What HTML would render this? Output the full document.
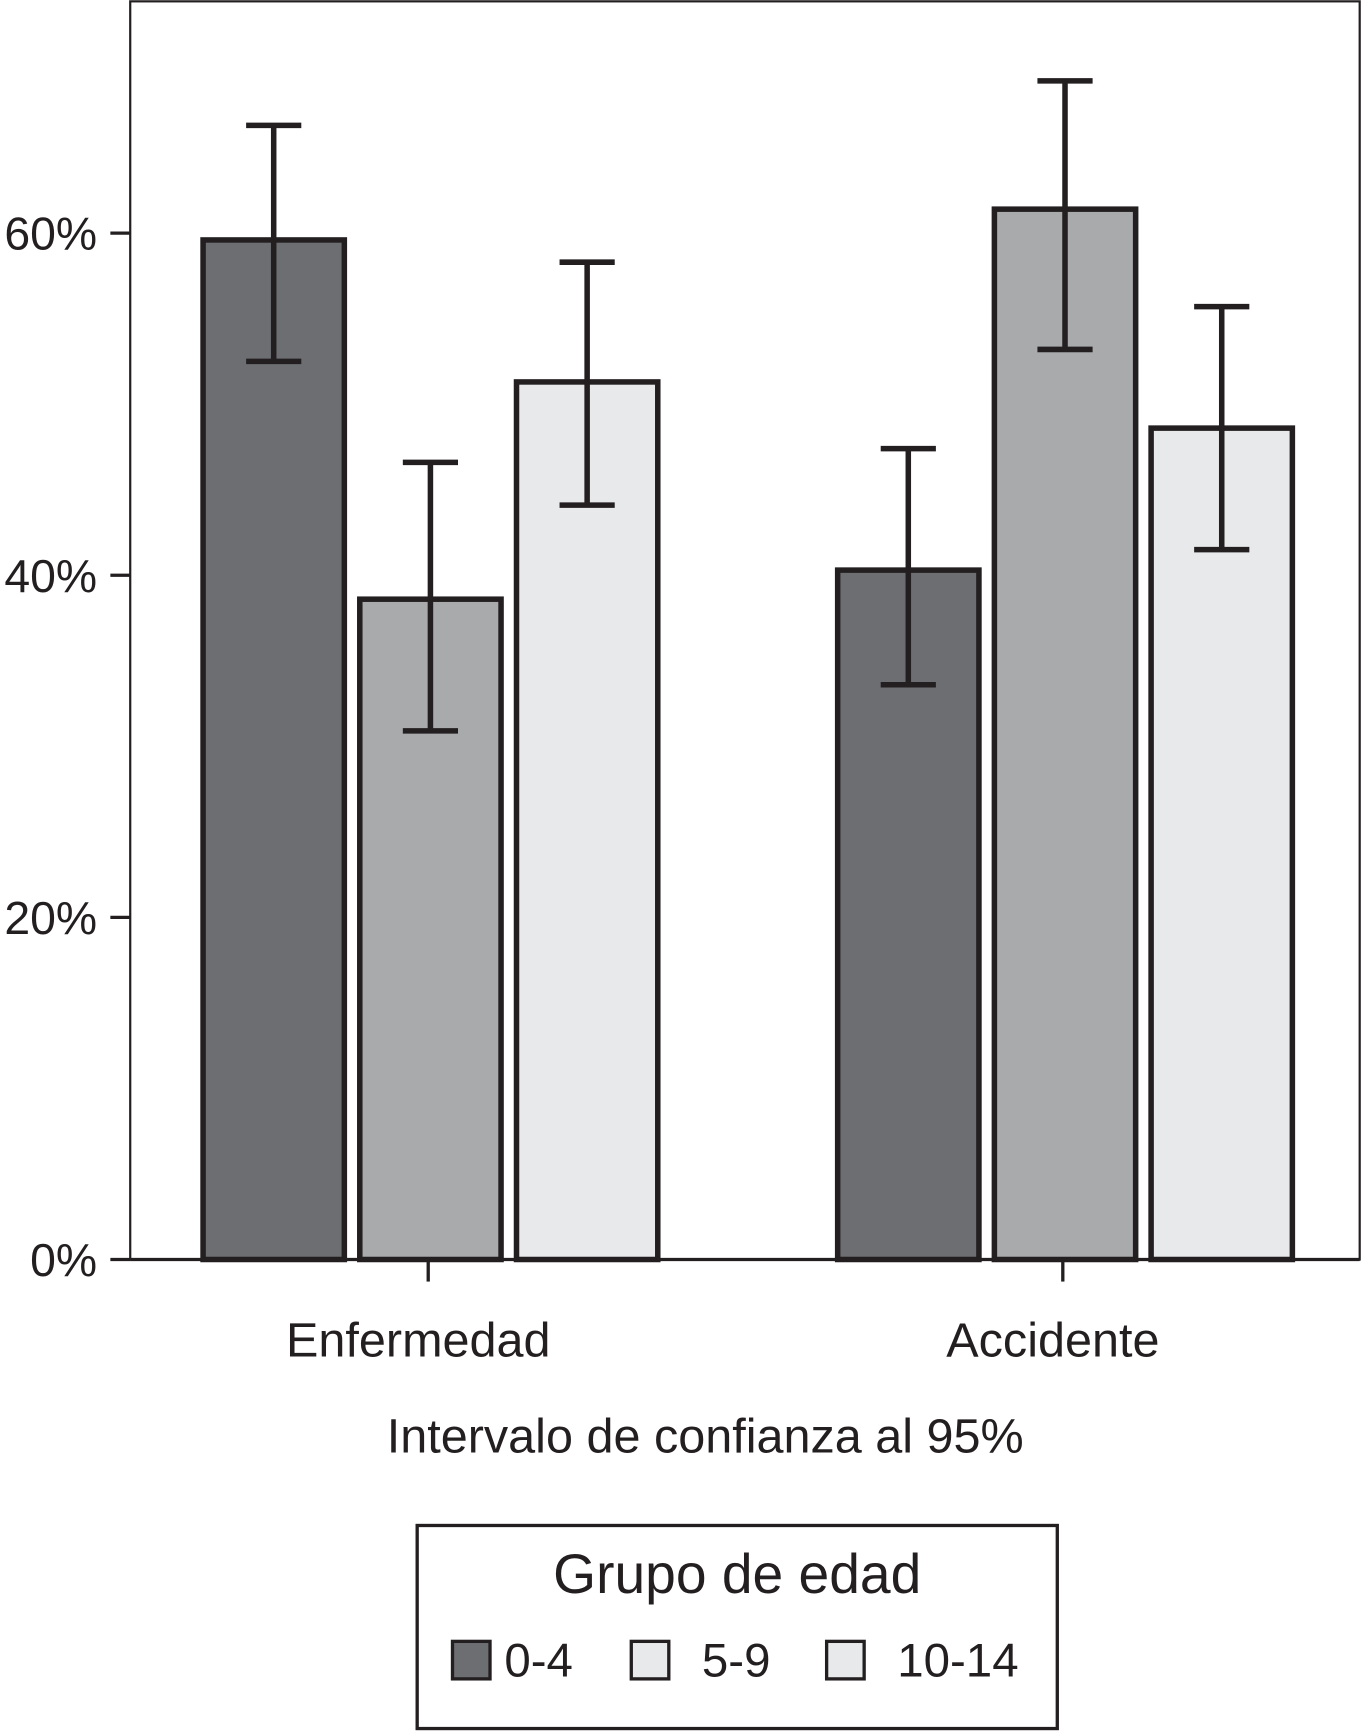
<!DOCTYPE html>
<html><head><meta charset="utf-8"><style>
html,body{margin:0;padding:0;background:#fff;}
svg{display:block;font-family:"Liberation Sans",Arial,sans-serif;}
</style></head><body>
<svg id="chart" width="1363" height="1731" viewBox="0 0 1235 1568" xmlns="http://www.w3.org/2000/svg">
<rect x="0" y="0" width="1235" height="1568" fill="#fff"/>
<g id="plot"></g>
</svg>
<script>
const categories = ["Enfermedad", "Accidente"];
const seriesNames = ["0-4", "5-9", "10-14"];
const values0_4 = [59.6, 40.3];
const values5_9 = [38.6, 61.4];
const values10_14 = [51.3, 48.6];
const upper0_4 = [66.3, 47.4];
const lower0_4 = [52.5, 33.6];
const upper5_9 = [46.6, 68.9];
const lower5_9 = [30.9, 53.2];
const upper10_14 = [58.3, 55.7];
const lower10_14 = [44.1, 41.5];
const yTicks = [0, 20, 40, 60];
const yTickLabels = ["0%", "20%", "40%", "60%"];

const NS = "http://www.w3.org/2000/svg";
const g = document.getElementById('plot');
const colors = ["#6d6e72", "#a9aaac", "#e8e9ea"];
const stroke = "#231f20";
const plotL = 118, plotR = 1232, plotT = 1, plotB = 1141;
function y(v){ return plotB - v * 15.5; }
const groupCenters = [388, 963];
const barW = 128, barStep = 142;
function x(ci, si){ return groupCenters[ci] - barW/2 + (si-1)*barStep + 2; }
function mk(tag, attrs, parent){
  const e = document.createElementNS(NS, tag);
  for (const k in attrs) e.setAttribute(k, attrs[k]);
  (parent||g).appendChild(e);
  return e;
}
const frame = mk('rect', {x:plotL, y:plotT, width:plotR-plotL, height:plotB-plotT, fill:'none', stroke:stroke, 'stroke-width':2});


yTicks.forEach((t, i) => {
  const ln = mk('line', {x1:100, x2:plotL, y1:y(t), y2:y(t), stroke:stroke, 'stroke-width':3});
  
  
  const tx = mk('text', {x:88, y:y(t)+15, 'text-anchor':'end', 'font-size':42, fill:stroke});
  tx.textContent = yTickLabels[i];
  
  
});
const vals = [values0_4, values5_9, values10_14];
const ups = [upper0_4, upper5_9, upper10_14];
const los = [lower0_4, lower5_9, lower10_14];
categories.forEach((c, ci) => {
  vals.forEach((arr, si) => {
    const bx = x(ci, si);
    const r = mk('rect', {x:bx, y:y(arr[ci]), width:barW, height:plotB - y(arr[ci]), fill:colors[si], stroke:stroke, 'stroke-width':5});
    
    
    const cx = bx + barW/2, yu = y(ups[si][ci]), yl = y(los[si][ci]);
    const eb = mk('path', {d:`M${cx},${yu}V${yl}M${cx-25},${yu}H${cx+25}M${cx-25},${yl}H${cx+25}`, stroke:stroke, 'stroke-width':5, fill:'none'});
    
    
  });
  const tk = mk('line', {x1:groupCenters[ci], x2:groupCenters[ci], y1:plotB, y2:plotB+20, stroke:stroke, 'stroke-width':3});
  
  
  const lb = mk('text', {x:groupCenters[ci]-9, y:1229, 'text-anchor':'middle', 'font-size':44, fill:stroke});
  lb.textContent = c;
  
  
});
const ax = mk('line', {x1:plotL, x2:plotR, y1:plotB, y2:plotB, stroke:stroke, 'stroke-width':3});


const xt = mk('text', {x:639, y:1316, 'text-anchor':'middle', 'font-size':44, fill:stroke});
xt.textContent = "Intervalo de confianza al 95%";


const lg = mk('g', {});


mk('rect', {x:378, y:1382, width:580, height:184, fill:'#fff', stroke:stroke, 'stroke-width':3}, lg);
const lt = mk('text', {x:668, y:1443, 'text-anchor':'middle', 'font-size':50, fill:stroke}, lg);
lt.textContent = "Grupo de edad";


const legX = [410, 572, 749];
const legColors = ["#6d6e72", "#e8e9ea", "#e8e9ea"];
seriesNames.forEach((s, i) => {
  const e = mk('g', {}, lg);
  
  
  mk('rect', {x:legX[i], y:1487, width:34, height:34, fill:legColors[i], stroke:stroke, 'stroke-width':3}, e);
  const t = mk('text', {x:legX[i] + (i===0?47:64), y:1519, 'font-size':43, fill:stroke}, e);
  t.textContent = s;
});
</script>
</body></html>
